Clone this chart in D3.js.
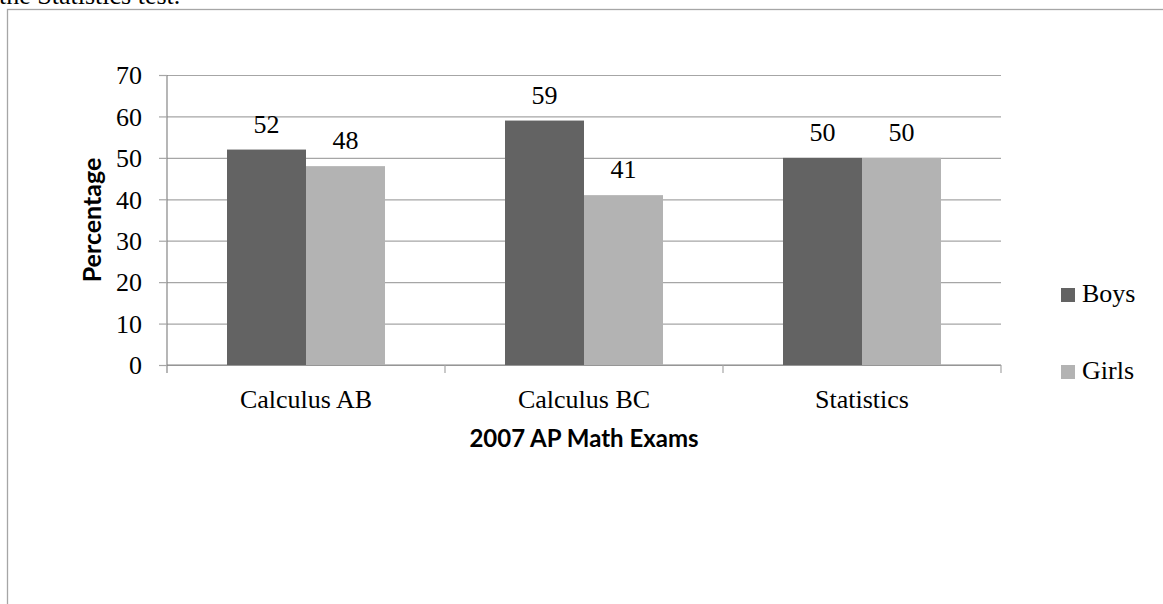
<!DOCTYPE html>
<html>
<head>
<meta charset="utf-8">
<script src="https://cdn.jsdelivr.net/npm/d3@7"></script>
<style>
  html, body { margin: 0; padding: 0; background: #fff; overflow: hidden; }
  svg { display: block; }
</style>
</head>
<body>
<div id="chart"></div>
<script>
// data
const categories = ['Calculus AB', 'Calculus BC', 'Statistics'];
const seriesNames = ['Boys', 'Girls'];
const boys = [52, 59, 50];
const girls = [48, 41, 50];
const yTicks = [0, 10, 20, 30, 40, 50, 60, 70];
const seriesColors = ['#636363', '#b3b3b3'];

const W = 1163, H = 604;
const serif = '"Liberation Serif", "Times New Roman", serif';
const sans = 'Lato, "Open Sans", sans-serif';

const svg = d3.select('#chart').append('svg')
    .attr('width', W)
    .attr('height', H);

// clipped caption line from the page above the chart
svg.append('text')
    .attr('x', -1)
    .attr('y', 4)
    .attr('font-family', serif)
    .attr('font-size', 26)
    .attr('fill', '#000')
    .text('the Statistics test.');

// chart frame (runs off the right and bottom edges)
svg.append('rect')
    .attr('x', 7.5)
    .attr('y', 9.5)
    .attr('width', W + 20)
    .attr('height', H + 20)
    .attr('fill', 'none')
    .attr('stroke', '#a6a6a6')
    .attr('stroke-width', 1.3);

const margin = { top: 75, left: 167 };
const innerWidth = 834;
const innerHeight = 290;

const g = svg.append('g')
    .attr('transform', `translate(${margin.left},${margin.top})`);

// Scales
const x0 = d3.scaleBand()
    .domain(categories)
    .range([0, innerWidth])
    .padding(0);

const gapFrac = 120 / 278;
const x1 = d3.scaleBand()
    .domain(seriesNames)
    .range([x0.bandwidth() * gapFrac / 2, x0.bandwidth() * (1 - gapFrac / 2)])
    .padding(0);

const y = d3.scaleLinear()
    .domain([0, 70])
    .range([innerHeight, 0]);

// Grid
g.append('g')
    .attr('class', 'grid')
    .call(d3.axisLeft(y)
        .tickValues(yTicks)
        .tickSize(-innerWidth)
        .tickFormat('')
    )
    .call(a => a.select('.domain').remove())
    .call(a => a.selectAll('line').attr('stroke', '#a6a6a6').attr('stroke-width', 1.2));

// Y axis
g.append('g')
    .attr('class', 'axis')
    .call(d3.axisLeft(y).tickValues(yTicks).tickSize(8).tickPadding(17))
    .call(a => a.select('.domain').attr('d', `M0,0V${innerHeight + 8}`).attr('stroke', '#868686').attr('stroke-width', 1.2))
    .call(a => a.selectAll('line').attr('stroke', '#a6a6a6').attr('stroke-width', 1.2))
    .call(a => a.selectAll('text')
        .attr('font-family', serif)
        .attr('font-size', 26)
        .attr('fill', '#000')
        .attr('dy', '0.34em'));

// X axis: category separators
const xAxis = g.append('g')
    .attr('class', 'axis')
    .attr('transform', `translate(0,${innerHeight})`);

xAxis.append('line')
    .attr('x1', 0)
    .attr('x2', innerWidth)
    .attr('stroke', '#868686')
    .attr('stroke-width', 1.2);

xAxis.selectAll('.sep')
    .data(categories)
    .join('line')
    .attr('class', 'sep')
    .attr('x1', d => x0(d) + x0.bandwidth())
    .attr('x2', d => x0(d) + x0.bandwidth())
    .attr('y1', 0)
    .attr('y2', 8)
    .attr('stroke', '#a6a6a6')
    .attr('stroke-width', 1.2);

xAxis.selectAll('.cat')
    .data(categories)
    .join('text')
    .attr('class', 'cat')
    .attr('x', d => x0(d) + x0.bandwidth() / 2)
    .attr('y', 43)
    .attr('text-anchor', 'middle')
    .attr('font-family', serif)
    .attr('font-size', 26)
    .attr('fill', '#000')
    .text(d => d);

// Axis titles
g.append('text')
    .attr('x', innerWidth / 2)
    .attr('y', innerHeight + 82)
    .attr('text-anchor', 'middle')
    .attr('font-family', sans)
    .attr('font-weight', 'bold')
    .attr('font-size', 24)
    .attr('fill', '#000')
    .text('2007 AP Math Exams');

g.append('text')
    .attr('transform', 'rotate(-90)')
    .attr('x', -innerHeight / 2)
    .attr('y', -66)
    .attr('text-anchor', 'middle')
    .attr('font-family', sans)
    .attr('font-weight', 'bold')
    .attr('font-size', 25)
    .attr('fill', '#000')
    .text('Percentage');

// Bars
const rows = categories.map((c, i) => ({
    category: c,
    values: [
        { key: 'Boys', value: boys[i] },
        { key: 'Girls', value: girls[i] }
    ]
}));

const groups = g.selectAll('.group')
    .data(rows)
    .join('g')
    .attr('class', 'group')
    .attr('transform', d => `translate(${x0(d.category)},0)`);

groups.selectAll('rect')
    .data(d => d.values)
    .join('rect')
    .attr('x', d => x1(d.key))
    .attr('width', x1.bandwidth())
    .attr('y', d => y(d.value))
    .attr('height', d => innerHeight - y(d.value))
    .attr('fill', (d, i) => seriesColors[i]);

groups.selectAll('.val')
    .data(d => d.values)
    .join('text')
    .attr('class', 'val')
    .attr('x', d => x1(d.key) + x1.bandwidth() / 2)
    .attr('y', d => y(d.value) - 17)
    .attr('text-anchor', 'middle')
    .attr('font-family', serif)
    .attr('font-size', 26)
    .attr('fill', '#000')
    .text(d => d.value);

// Legend
const legendY = [302, 379];
const legend = svg.append('g').attr('class', 'legend');

legend.selectAll('rect')
    .data(seriesNames)
    .join('rect')
    .attr('x', 1061)
    .attr('y', (d, i) => legendY[i] - 14)
    .attr('width', 14)
    .attr('height', 14)
    .attr('fill', (d, i) => seriesColors[i]);

legend.selectAll('text')
    .data(seriesNames)
    .join('text')
    .attr('x', 1082)
    .attr('y', (d, i) => legendY[i])
    .attr('font-family', serif)
    .attr('font-size', 26)
    .attr('fill', '#000')
    .text(d => d);
</script>
</body>
</html>
